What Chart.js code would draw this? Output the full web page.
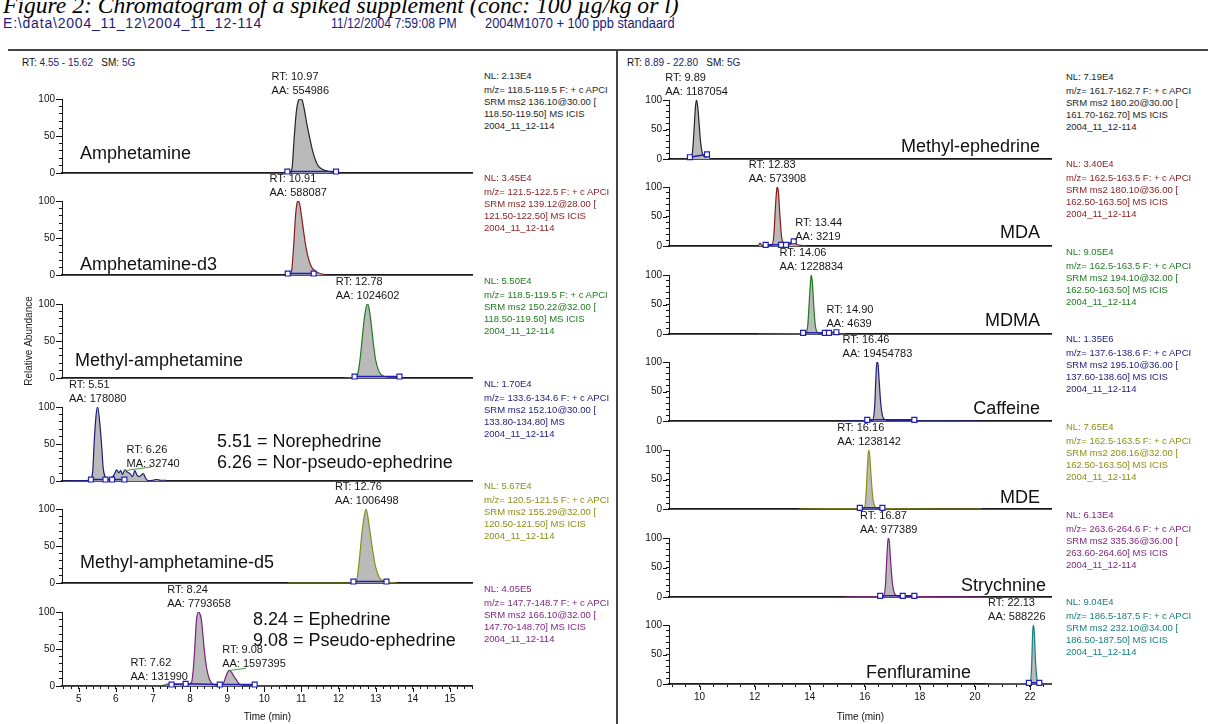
<!DOCTYPE html>
<html><head><meta charset="utf-8">
<script src="https://cdn.jsdelivr.net/npm/chart.js@4.4.1/dist/chart.umd.min.js"></script>
<style>
html,body{margin:0;padding:0;background:#fff;}
body{position:relative;width:1208px;height:724px;overflow:hidden;font-family:"Liberation Sans",Arial,sans-serif;}
.t{position:absolute;white-space:nowrap;line-height:1;}
.hd{position:absolute;white-space:nowrap;line-height:1;font-size:14px;color:#1c1c7c;transform-origin:0 0;}
.info{position:absolute;font-size:9.5px;line-height:11.8px;white-space:nowrap;}
.info div:first-child{margin-bottom:2.5px;}
.name{position:absolute;font-size:18px;color:#111;white-space:nowrap;line-height:1;}
canvas{position:absolute;}
</style></head><body>
<div class="t" style="left:3px;top:-8px;font:italic 23.6px 'Liberation Serif','Times New Roman',serif;color:#000;">Figure 2: Chromatogram of a spiked supplement (conc: 100 µg/kg or l)</div>
<div class="hd" style="left:3px;top:16px;letter-spacing:0.8px;">E:\data\2004_11_12\2004_11_12-114</div>
<div class="hd" style="left:331px;top:16px;transform:scaleX(0.87);">11/12/2004 7:59:08 PM</div>
<div class="hd" style="left:485px;top:16px;transform:scaleX(0.917);">2004M1070 + 100 ppb standaard</div>
<div style="position:absolute;left:8px;top:49px;width:1200px;height:1.5px;background:#444;"></div>
<div style="position:absolute;left:616px;top:50px;width:1.5px;height:674px;background:#444;"></div>
<div class="t" style="left:22px;top:58px;font-size:10px;color:#111;">RT: <span style="color:#1c1c7c">4.55 - 15.62</span>&nbsp;&nbsp;&nbsp;SM: <span style="color:#1c1c7c">5G</span></div>
<div class="t" style="left:627px;top:58px;font-size:10px;color:#111;">RT: <span style="color:#1c1c7c">8.89 - 22.80</span>&nbsp;&nbsp;&nbsp;SM: <span style="color:#1c1c7c">5G</span></div>
<script>
// ================= DATA =================
const leftTimeRange = [4.55, 15.62];
const rightTimeRange = [8.89, 22.80];
const abundanceTickLabels = [0, 50, 100];
const leftTimeTickLabels = [5, 6, 7, 8, 9, 10, 11, 12, 13, 14, 15];
const rightTimeTickLabels = [10, 12, 14, 16, 18, 20, 22];

// ---- left column traces: [time (min), relative abundance %] ----
const amphetamineTrace = [[10.55,0],[10.7,0.5],[10.75,8],[10.8,45],[10.86,82],[10.92,98],[10.97,100],[11.02,98],[11.08,85],[11.15,65],[11.22,48],[11.3,30],[11.38,17],[11.46,9],[11.56,5],[11.68,3],[11.8,1.5],[11.95,0.5]];
const amphetamineBase = [[10.62,2],[11.93,2]];
const amphetamineD3Trace = [[10.55,0],[10.68,0.5],[10.74,8],[10.79,40],[10.84,80],[10.88,97],[10.91,100],[10.95,96],[11.0,80],[11.06,58],[11.12,38],[11.2,20],[11.28,10],[11.38,5],[11.5,2],[11.65,0.5]];
const amphetamineD3Base = [[10.63,2],[11.33,2]];
const methAmphTrace = [[12.15,0],[12.4,0.5],[12.5,3],[12.56,18],[12.62,45],[12.68,75],[12.74,95],[12.78,100],[12.82,94],[12.88,72],[12.94,45],[13.0,24],[13.07,11],[13.14,5],[13.25,2],[13.4,0.5],[13.55,0]];
const methAmphBase = [[12.43,2],[13.64,2]];
const norephedrineTrace = [[4.55,0],[5.0,0.5],[5.3,1],[5.375,12],[5.42,55],[5.47,90],[5.51,100],[5.57,77],[5.62,46],[5.66,17],[5.71,6],[5.78,2],[5.89,5],[5.95,8],[6.02,15],[6.08,11],[6.13,14],[6.18,9],[6.24,15],[6.31,12],[6.38,10],[6.45,6],[6.51,14],[6.57,8],[6.63,6],[6.69,8],[6.74,10],[6.8,4],[6.87,0.5],[7.0,1],[7.1,2],[7.2,1],[7.36,1]];
const norephedrineBase = [[5.33,2],[5.72,2],[5.9,2],[6.23,2]];
const norephedrineLeader = [[6.24,14],[6.96,19]];
const methAmphD5Trace = [[10.63,0],[12.3,0],[12.47,1],[12.56,32],[12.63,68],[12.7,93],[12.74,100],[12.81,82],[12.9,50],[12.99,23],[13.1,7],[13.2,3],[13.3,1],[13.58,0]];
const methAmphD5Base = [[12.40,2],[13.29,2]];
const ephedrineTrace = [[4.55,0],[6.0,0],[7.0,0.5],[7.3,1],[7.45,2],[7.55,2.5],[7.62,3],[7.7,2],[7.85,1.5],[7.95,2],[8.04,5],[8.09,25],[8.13,55],[8.17,88],[8.22,100],[8.26,98],[8.3,91],[8.34,72],[8.38,50],[8.44,26],[8.53,8],[8.66,1.5],[8.8,1],[8.9,4],[8.98,15],[9.05,21],[9.11,19],[9.18,13],[9.25,8],[9.32,3],[9.4,1],[9.6,0.5],[10.0,0.3],[10.49,0]];
const ephedrineBase = [[7.5,2],[7.88,3],[8.8,2],[9.74,2]];
const ephedrineLeader = [[7.3,2],[7.5,4],[7.52,null],[9.07,21],[9.5,24]];

// ---- right column traces ----
const methylEphedrineTrace = [[8.89,0],[9.3,0],[9.5,0.5],[9.62,2],[9.7,3],[9.75,15],[9.8,50],[9.85,88],[9.89,100],[9.93,90],[9.98,62],[10.03,32],[10.09,12],[10.16,4],[10.24,3],[10.3,6],[10.36,2],[10.45,0]];
const methylEphedrineBase = [[9.65,3],[10.27,8]];
const mdaTrace = [[12.15,2],[12.2,5],[12.26,1],[12.35,0.5],[12.5,0.5],[12.62,1],[12.7,20],[12.76,70],[12.81,98],[12.83,100],[12.87,88],[12.92,50],[12.98,15],[13.05,4],[13.15,2],[13.3,3],[13.4,6],[13.47,5],[13.55,2],[13.7,1],[13.88,0]];
const mdaBase = [[12.4,2],[12.96,2],[13.14,2],[13.42,8]];
const mdmaTrace = [[12.13,0],[13.7,0.5],[13.85,1],[13.93,15],[13.99,60],[14.04,95],[14.06,100],[14.1,85],[14.15,45],[14.21,12],[14.28,3],[14.4,1],[14.6,1],[14.75,2],[14.9,3],[15.0,1],[15.3,0]];
const mdmaBase = [[13.76,2],[14.55,2],[14.7,2],[14.97,3]];
const caffeineTrace = [[15.13,0],[16.2,0.5],[16.28,1],[16.36,25],[16.41,80],[16.44,100],[16.48,97],[16.52,70],[16.58,30],[16.65,8],[16.75,2],[16.9,0.5],[17.5,0.3],[20.26,0]];
const caffeineBase = [[16.09,2],[17.8,2]];
const mdeTrace = [[13.62,0],[15.9,0.3],[15.98,1],[16.04,20],[16.1,75],[16.14,100],[16.18,90],[16.23,55],[16.29,20],[16.36,5],[16.45,1],[16.6,0.3],[20.26,0]];
const mdeBase = [[15.82,2],[16.64,2]];
const strychnineTrace = [[15.2,0],[16.6,0.3],[16.68,1],[16.75,20],[16.81,75],[16.85,100],[16.89,95],[16.94,60],[17.0,25],[17.08,6],[17.18,2],[17.3,1],[17.38,3],[17.45,1],[17.7,0.5],[20.26,0]];
const strychnineBase = [[16.56,2],[17.38,2],[17.8,2]];
const fenfluramineTrace = [[20.39,0],[21.9,0.3],[22.0,1],[22.06,30],[22.1,90],[22.13,100],[22.16,85],[22.2,40],[22.25,10],[22.3,2],[22.4,0.5],[22.78,0]];
const fenfluramineBase = [[21.96,2],[22.34,2]];

// ---- peak annotations: retention time, area, label anchor height ----
const amphetaminePeaks = [{rt:10.97, t1:'RT: 10.97', t2:'AA: 554986', top:100, align:'center'}];
const amphetamineD3Peaks = [{rt:10.91, t1:'RT: 10.91', t2:'AA: 588087', top:100, align:'center'}];
const methAmphPeaks = [{rt:12.78, t1:'RT: 12.78', t2:'AA: 1024602', top:100, align:'center'}];
const norephedrinePeaks = [{rt:5.51, t1:'RT: 5.51', t2:'AA: 178080', top:100, align:'center'},{rt:6.26, t1:'RT: 6.26', t2:'MA: 32740', top:12, align:'left'}];
const methAmphD5Peaks = [{rt:12.76, t1:'RT: 12.76', t2:'AA: 1006498', top:100, align:'center'}];
const ephedrinePeaks = [{rt:7.62, t1:'RT: 7.62', t2:'AA: 131990', top:1.5, align:'right'},{rt:8.24, t1:'RT: 8.24', t2:'AA: 7793658', top:100, align:'center'},{rt:9.08, t1:'RT: 9.08', t2:'AA: 1597395', top:19, align:'leftwide'}];
const methylEphedrinePeaks = [{rt:9.89, t1:'RT: 9.89', t2:'AA: 1187054', top:100, align:'center'}];
const mdaPeaks = [{rt:12.83, t1:'RT: 12.83', t2:'AA: 573908', top:100, align:'center'},{rt:13.44, t1:'RT: 13.44', t2:'AA: 3219', top:2, align:'left'}];
const mdmaPeaks = [{rt:14.06, t1:'RT: 14.06', t2:'AA: 1228834', top:100, align:'center'},{rt:14.90, t1:'RT: 14.90', t2:'AA: 4639', top:3, align:'leftwide'}];
const caffeinePeaks = [{rt:16.46, t1:'RT: 16.46', t2:'AA: 19454783', top:100, align:'center'}];
const mdePeaks = [{rt:16.16, t1:'RT: 16.16', t2:'AA: 1238142', top:100, align:'center'}];
const strychninePeaks = [{rt:16.87, t1:'RT: 16.87', t2:'AA: 977389', top:100, align:'center'}];
const fenfluraminePeaks = [{rt:22.13, t1:'RT: 22.13', t2:'AA: 588226', top:100, align:'right'}];

// ---- scan info texts ----
const amphetamineInfo = ['NL: 2.13E4','m/z= 118.5-119.5 F: + c APCI','SRM ms2 136.10@30.00 [','118.50-119.50]  MS  ICIS','2004_11_12-114'];
const amphetamineD3Info = ['NL: 3.45E4','m/z= 121.5-122.5 F: + c APCI','SRM ms2 139.12@28.00 [','121.50-122.50]  MS  ICIS','2004_11_12-114'];
const methAmphInfo = ['NL: 5.50E4','m/z= 118.5-119.5 F: + c APCI','SRM ms2 150.22@32.00 [','118.50-119.50]  MS  ICIS','2004_11_12-114'];
const norephedrineInfo = ['NL: 1.70E4','m/z= 133.6-134.6 F: + c APCI','SRM ms2 152.10@30.00 [','133.80-134.80]  MS','2004_11_12-114'];
const methAmphD5Info = ['NL: 5.67E4','m/z= 120.5-121.5 F: + c APCI','SRM ms2 155.29@32.00 [','120.50-121.50]  MS  ICIS','2004_11_12-114'];
const ephedrineInfo = ['NL: 4.05E5','m/z= 147.7-148.7 F: + c APCI','SRM ms2 166.10@32.00 [','147.70-148.70]  MS  ICIS','2004_11_12-114'];
const methylEphedrineInfo = ['NL: 7.19E4','m/z= 161.7-162.7 F: + c APCI','SRM ms2 180.20@30.00 [','161.70-162.70]  MS  ICIS','2004_11_12-114'];
const mdaInfo = ['NL: 3.40E4','m/z= 162.5-163.5 F: + c APCI','SRM ms2 180.10@36.00 [','162.50-163.50]  MS  ICIS','2004_11_12-114'];
const mdmaInfo = ['NL: 9.05E4','m/z= 162.5-163.5 F: + c APCI','SRM ms2 194.10@32.00 [','162.50-163.50]  MS  ICIS','2004_11_12-114'];
const caffeineInfo = ['NL: 1.35E6','m/z= 137.6-138.6 F: + c APCI','SRM ms2 195.10@36.00 [','137.60-138.60]  MS  ICIS','2004_11_12-114'];
const mdeInfo = ['NL: 7.65E4','m/z= 162.5-163.5 F: + c APCI','SRM ms2 208.16@32.00 [','162.50-163.50]  MS  ICIS','2004_11_12-114'];
const strychnineInfo = ['NL: 6.13E4','m/z= 263.6-264.6 F: + c APCI','SRM ms2 335.36@36.00 [','263.60-264.60]  MS  ICIS','2004_11_12-114'];
const fenfluramineInfo = ['NL: 9.04E4','m/z= 186.5-187.5 F: + c APCI','SRM ms2 232.10@34.00 [','186.50-187.50]  MS  ICIS','2004_11_12-114'];

// ================= STYLE / LAYOUT =================
const C = {black:'#262626', red:'#8b1a1a', green:'#1e7b1e', navy:'#1c1c7c', olive:'#8e8e16', purple:'#7c1f7c', teal:'#178080'};
const BLUE = '#1f1fb8', LEADER = '#3ea03e', FILL = '#bababa';

const leftPanels = [
  {color:C.black, trace:amphetamineTrace, base:amphetamineBase, peaks:amphetaminePeaks, info:amphetamineInfo, names:[{s:'Amphetamine', x:80, cy:153}]},
  {color:C.red, trace:amphetamineD3Trace, base:amphetamineD3Base, peaks:amphetamineD3Peaks, info:amphetamineD3Info, names:[{s:'Amphetamine-d3', x:80, cy:264}]},
  {color:C.green, trace:methAmphTrace, base:methAmphBase, peaks:methAmphPeaks, info:methAmphInfo, names:[{s:'Methyl-amphetamine', x:75, cy:360}], yTitle:true},
  {color:C.navy, trace:norephedrineTrace, base:norephedrineBase, leader:norephedrineLeader, peaks:norephedrinePeaks, info:norephedrineInfo, names:[{s:'5.51 = Norephedrine', x:217, cy:441},{s:'6.26 = Nor-pseudo-ephedrine', x:217, cy:462}]},
  {color:C.olive, trace:methAmphD5Trace, base:methAmphD5Base, peaks:methAmphD5Peaks, info:methAmphD5Info, names:[{s:'Methyl-amphetamine-d5', x:80, cy:562}]},
  {color:C.purple, trace:ephedrineTrace, base:ephedrineBase, leader:ephedrineLeader, peaks:ephedrinePeaks, info:ephedrineInfo, names:[{s:'8.24 = Ephedrine', x:253, cy:619},{s:'9.08 = Pseudo-ephedrine', x:253, cy:640}]}
];
const rightPanels = [
  {color:C.black, trace:methylEphedrineTrace, base:methylEphedrineBase, peaks:methylEphedrinePeaks, info:methylEphedrineInfo, names:[{s:'Methyl-ephedrine', r:1040, cy:146}]},
  {color:C.red, trace:mdaTrace, base:mdaBase, peaks:mdaPeaks, info:mdaInfo, names:[{s:'MDA', r:1040, cy:232}]},
  {color:C.green, trace:mdmaTrace, base:mdmaBase, peaks:mdmaPeaks, info:mdmaInfo, names:[{s:'MDMA', r:1040, cy:320}]},
  {color:C.navy, trace:caffeineTrace, base:caffeineBase, peaks:caffeinePeaks, info:caffeineInfo, names:[{s:'Caffeine', r:1040, cy:408}]},
  {color:C.olive, trace:mdeTrace, base:mdeBase, peaks:mdePeaks, info:mdeInfo, names:[{s:'MDE', r:1040, cy:497}]},
  {color:C.purple, trace:strychnineTrace, base:strychnineBase, peaks:strychninePeaks, info:strychnineInfo, names:[{s:'Strychnine', r:1046, cy:585}]},
  {color:C.teal, trace:fenfluramineTrace, base:fenfluramineBase, peaks:fenfluraminePeaks, info:fenfluramineInfo, names:[{s:'Fenfluramine', x:866, cy:672}]}
];

const LG = {left:12, width:461, y0:172.5, step:102.7, h:74, infoX:484, range:leftTimeRange, step2:0.2, xLabels:leftTimeTickLabels};
const RG = {left:619, width:433, y0:158.5, step:87.6, h:59, infoX:1066, range:rightTimeRange, step2:0.5, xLabels:rightTimeTickLabels};

Chart.defaults.font.family = '"Liberation Sans", Arial, sans-serif';
Chart.defaults.color = '#111';

const near = (a, b) => Math.abs(a - b) < 1e-6;

const chromPlugin = {
  id: 'chrom',
  afterDatasetsDraw(chart, args, o) {
    const ctx = chart.ctx, xs = chart.scales.x, ys = chart.scales.y;
    ctx.save();
    ctx.strokeStyle = '#111'; ctx.lineWidth = 1;
    ys.ticks.forEach(t => {
      if (abundanceTickLabels.some(v => near(v, t.value))) {
        const py = Math.round(ys.getPixelForValue(t.value)) + 0.5;
        ctx.beginPath(); ctx.moveTo(chart.chartArea.left - 6, py); ctx.lineTo(chart.chartArea.left - 2, py); ctx.stroke();
      }
    });
    if (o.bottom) {
      xs.ticks.forEach(t => {
        if (o.xLabels.some(v => near(v, t.value))) {
          const px = Math.round(xs.getPixelForValue(t.value)) + 0.5;
          ctx.beginPath(); ctx.moveTo(px, chart.chartArea.bottom + 2); ctx.lineTo(px, chart.chartArea.bottom + 6); ctx.stroke();
        }
      });
    }
    ctx.font = '11px "Liberation Sans", Arial, sans-serif';
    ctx.fillStyle = '#161616'; ctx.textAlign = 'left'; ctx.textBaseline = 'alphabetic';
    o.peaks.forEach(p => {
      const px = xs.getPixelForValue(p.rt), py = ys.getPixelForValue(p.top);
      const w = Math.max(ctx.measureText(p.t1).width, ctx.measureText(p.t2).width);
      let left = px - w / 2;
      if (p.align === 'left') left = px + 1;
      else if (p.align === 'leftwide') left = px - 8;
      else if (p.align === 'right') left = px + 12 - w;
      ctx.fillText(p.t1, left, py - 19);
      ctx.fillText(p.t2, left, py - 5);
    });
    ctx.restore();
  }
};

function addText(cls, txt, style) {
  const d = document.createElement('div');
  d.className = cls; d.textContent = txt; d.style.cssText = style;
  document.body.appendChild(d); return d;
}

function buildColumn(panels, G) {
  panels.forEach((p, i) => {
    const bottom = i === panels.length - 1;
    const y0 = Math.round(G.y0 + G.step * i), y100 = y0 - G.h;
    const PAD = 30, top = y100 - PAD;
    const axisH = bottom ? 724 - y0 : 8;
    const H = PAD + G.h + axisH;
    const cv = document.createElement('canvas');
    cv.width = G.width; cv.height = H;
    cv.style.cssText = `left:${G.left}px;top:${top}px;width:${G.width}px;height:${H}px;`;
    document.body.appendChild(cv);

    const datasets = [
      {data:p.base, borderColor:BLUE, borderWidth:1.6, showLine:true, tension:0, pointStyle:'rect', pointRadius:3.5, pointBorderColor:BLUE, pointBorderWidth:1.2, pointBackgroundColor:'#ffffff', clip:false, order:0, fill:false},
      {data:p.leader || [], borderColor:LEADER, borderWidth:1, pointRadius:0, order:1, fill:false, spanGaps:false},
      {data:p.trace, borderColor:p.color, borderWidth:1.2, pointRadius:0, fill:'origin', backgroundColor:FILL, cubicInterpolationMode:'monotone', order:2}
    ];

    new Chart(cv, {
      type:'line',
      data:{datasets},
      plugins:[chromPlugin],
      options:{
        responsive:false, animation:false, devicePixelRatio:1,
        layout:{autoPadding:false, padding:{top:PAD, left:0, right:0, bottom:0}},
        events:[],
        plugins:{legend:{display:false}, tooltip:{enabled:false}, chrom:{peaks:p.peaks, bottom, xLabels:G.xLabels}},
        scales:{
          x:{type:'linear', min:G.range[0], max:G.range[1],
            afterBuildTicks:s => { s.ticks = s.ticks.filter(t => near(t.value / G.step2, Math.round(t.value / G.step2))); },
            afterFit:s => { s.height = axisH; s.paddingLeft = 0; s.paddingRight = 0; s.paddingTop = 0; s.paddingBottom = 0; },
            ticks:{display:bottom, stepSize:G.step2, includeBounds:false, autoSkip:false, maxRotation:0, minRotation:0, padding:4, font:{size:10}, color:'#111',
              callback:v => G.xLabels.some(l => near(l, v)) ? String(v) : ''},
            grid:{display:true, drawOnChartArea:false, drawTicks:bottom, tickLength:3, tickColor:'#111', tickWidth:1},
            border:{display:true, color:'#1a1a1a', width:1.7},
            title:{display:bottom, text:'Time (min)', font:{size:10}, color:'#111', padding:{top:0, bottom:1}}
          },
          y:{type:'linear', min:0, max:100,
            afterFit:s => { s.width = 50; s.paddingTop = 0; s.paddingBottom = 0; s.paddingLeft = 0; s.paddingRight = 0; },
            ticks:{stepSize:10, autoSkip:false, padding:4, font:{size:10}, color:'#111',
              callback:v => abundanceTickLabels.includes(v) ? String(v) : ''},
            grid:{display:true, drawOnChartArea:false, drawTicks:true, tickLength:3, tickColor:'#111', tickWidth:1},
            border:{display:true, color:'#1a1a1a', width:1},
            title:{display:!!p.yTitle, text:'Relative Abundance', font:{size:10}, color:'#222', padding:{top:11, bottom:0}}
          }
        }
      }
    });

    const box = document.createElement('div');
    box.className = 'info';
    box.style.cssText = `left:${G.infoX}px;top:${Math.round(y0 - G.step + 5.5 - 6)}px;color:${p.color};`;
    p.info.forEach(line => { const d = document.createElement('div'); d.textContent = line; box.appendChild(d); });
    document.body.appendChild(box);

    p.names.forEach(n => {
      const d = addText('name', n.s, `top:${n.cy - 9}px;`);
      if (n.r !== undefined) { d.style.right = (1208 - n.r) + 'px'; } else { d.style.left = n.x + 'px'; }
    });
  });
}

buildColumn(leftPanels, LG);
buildColumn(rightPanels, RG);
</script>
</body></html>
